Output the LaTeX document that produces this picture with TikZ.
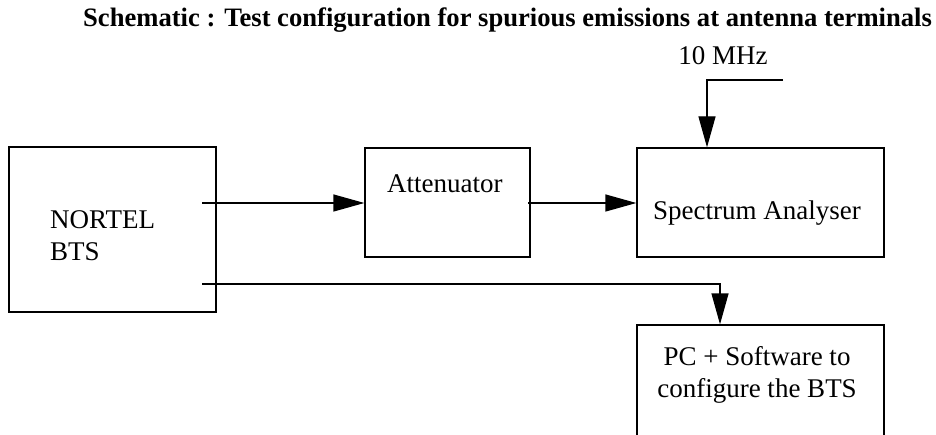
\documentclass[tikz,border=0pt]{standalone}
\usepackage{fontspec}
\setmainfont{Liberation Serif}
\usetikzlibrary{arrows.meta}
\begin{document}
\begin{tikzpicture}[x=1pt,y=1pt,
  box/.style={draw=black,line width=1.3pt,minimum width=#1,inner sep=0pt},
  lbl/.style={inner sep=0pt,font=\fontsize{27pt}{31pt}\selectfont},
  wire/.style={line width=1.3pt},
  arr/.style={line width=1.3pt,-{Triangle[length=31pt,width=17pt]}}]
\useasboundingbox (0,0) rectangle (936,434);
\clip (0,0) rectangle (936,434);
% title
\node[lbl,anchor=base west,font=\fontsize{26.6pt}{30pt}\selectfont\bfseries] (title) at (83,407)
  {Schematic : Test configuration for spurious emissions at antenna terminals};
% boxes
\node[box=207pt,minimum height=165pt] (bts) at (112.5,204.5) {};
\node[box=165pt,minimum height=109pt] (att) at (447.5,231.5) {};
\node[box=247pt,minimum height=109pt] (sa) at (760.5,231.5) {};
\node[box=247pt,minimum height=155pt] (pc) at (760.5,31.5) {};
% texts
\node[lbl,anchor=base west] (t1) at (50,205) {NORTEL};
\node[lbl,anchor=base west] (t2) at (50,174) {BTS};
\node[lbl,anchor=base west] (t3) at (387,241) {Attenuator};
\node[lbl,anchor=base west] (t4) at (653,214) {Spectrum Analyser};
\node[lbl,anchor=base] (t5) at (757,69) {PC + Software to};
\node[lbl,anchor=base] (t6) at (757,37) {configure the BTS};
\node[lbl,anchor=base] (mhz) at (723,369) {10 MHz};
% connector ends
\coordinate (o1) at (202,231);
\coordinate (o2) at (528,231);
\coordinate (o3) at (202,150);
\coordinate (k3) at (720,150);
\coordinate (r1) at (783,354);
\coordinate (r2) at (707,354);
% connectors
\draw[arr] (o1) -- (o1 -| att.west);
\draw[arr] (o2) -- (o2 -| sa.west);
\draw[arr] (o3) -- (k3) -- (k3 |- pc.north);
\draw[arr] (r1) -- (r2) -- (r2 |- sa.north);
\end{tikzpicture}
\end{document}
